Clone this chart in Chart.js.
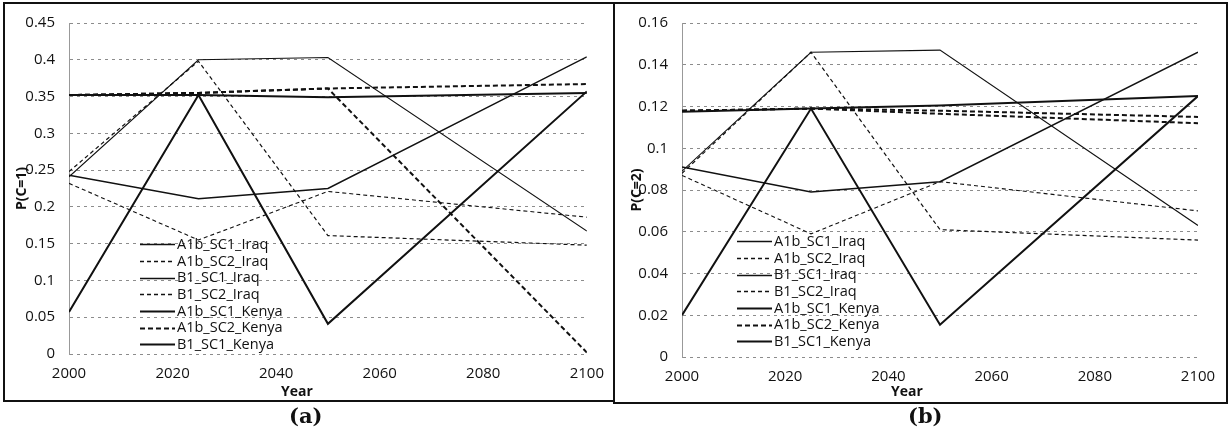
<!DOCTYPE html>
<html>
<head>
<meta charset="utf-8">
<script src="https://cdn.jsdelivr.net/npm/chart.js@4.4.1/dist/chart.umd.min.js"></script>
<style>
  body { margin: 0; background: #fff; width: 1229px; height: 439px; position: relative; overflow: hidden; font-family: "Open Sans", sans-serif; }
  canvas { position: absolute; top: 0; }
  .frame { position: absolute; border: 2px solid #111; pointer-events: none; box-sizing: border-box; }
  .legend { position: absolute; font-size: 14.5px; line-height: 16.7px; color: #111; }
  .legend div { display: flex; align-items: center; height: 16.7px; }
  .legend svg { margin-right: 2px; }
  .xtitle { position: absolute; font-size: 14px; font-weight: bold; color: #111; }
  .cap { position: absolute; font-family: "DejaVu Serif", serif; font-weight: bold; font-size: 21px; color: #111; }
</style>
</head>
<body>
<canvas id="chartA" width="615" height="401" style="left:0"></canvas>
<canvas id="chartB" width="614" height="403" style="left:615px"></canvas>
<div class="frame" style="left:3px; top:2px; width:612px; height:400px;"></div>
<div class="frame" style="left:613px; top:2px; width:615px; height:402px;"></div>
<div class="legend" id="legendA" style="left:140px; top:236px;"></div>
<div class="legend" id="legendB" style="left:737px; top:233px;"></div>
<div class="xtitle" style="left:281px; top:381px;">Year</div>
<div class="xtitle" style="left:891px; top:381px;">Year</div>
<div class="cap" style="left:289px; top:403px;">(a)</div>
<div class="cap" style="left:908px; top:403px;">(b)</div>
<script>
const years = [2000, 2025, 2050, 2100];
const seriesNames = ["A1b_SC1_Iraq", "A1b_SC2_Iraq", "B1_SC1_Iraq", "B1_SC2_Iraq",
                     "A1b_SC1_Kenya", "A1b_SC2_Kenya", "B1_SC1_Kenya", "B1_SC2_Kenya"];
// the printed legend stops at 7 entries
const legendCount = 7;

// (a) P(C=1)
const a_A1b_SC1_Iraq  = [0.241, 0.400, 0.403, 0.167];
const a_A1b_SC2_Iraq  = [0.248, 0.398, 0.161, 0.148];
const a_B1_SC1_Iraq   = [0.243, 0.211, 0.225, 0.404];
const a_B1_SC2_Iraq   = [0.232, 0.155, 0.221, 0.186];
const a_A1b_SC1_Kenya = [0.057, 0.352, 0.041, 0.357];
const a_A1b_SC2_Kenya = [0.352, 0.355, 0.361, 0.367];
const a_B1_SC1_Kenya  = [0.352, 0.352, 0.349, 0.355];
const a_B1_SC2_Kenya  = [0.352, 0.355, 0.361, 0.002];

// (b) P(C=2)
const b_A1b_SC1_Iraq  = [0.089, 0.146, 0.147, 0.063];
const b_A1b_SC2_Iraq  = [0.088, 0.146, 0.061, 0.056];
const b_B1_SC1_Iraq   = [0.091, 0.079, 0.084, 0.146];
const b_B1_SC2_Iraq   = [0.087, 0.059, 0.084, 0.070];
const b_A1b_SC1_Kenya = [0.020, 0.119, 0.0155, 0.125];
const b_A1b_SC2_Kenya = [0.118, 0.119, 0.118, 0.115];
const b_B1_SC1_Kenya  = [0.1175, 0.119, 0.1205, 0.125];
const b_B1_SC2_Kenya  = [0.118, 0.119, 0.1165, 0.112];

const xTicks = [2000, 2020, 2040, 2060, 2080, 2100];

// line looks, same order as seriesNames
const styles = [
    { w: 1.1, dash: [] },
    { w: 1.2, dash: [4, 3] },
    { w: 1.5, dash: [] },
    { w: 1.1, dash: [4, 3] },
    { w: 2, dash: [] },
    { w: 2, dash: [5, 3] },
    { w: 2, dash: [] },
    { w: 2, dash: [5, 3] }
];

function makeDatasets(list) {
    return list.map((vals, i) => ({
        label: seriesNames[i],
        data: vals.map((v, k) => ({ x: years[k], y: v })),
        borderColor: "#111",
        borderWidth: styles[i].w,
        borderDash: styles[i].dash,
        pointRadius: 0,
        tension: 0,
        fill: false
    }));
}

function makeLegend(id) {
    let box = document.getElementById(id);
    box.innerHTML = "";
    for (let i = 0; i < legendCount; i++) {
        let s = styles[i];
        box.innerHTML += `
            <div><svg width="35" height="6"><line x1="0" y1="3.5" x2="35" y2="3.5" stroke="#111"
              stroke-width="${Math.max(s.w, 1.4)}" stroke-dasharray="${s.dash.join(' ')}"/></svg>${seriesNames[i]}</div>`;
    }
}

const tickFont = { family: "Open Sans", size: 15 };
const titleFont = { family: "Open Sans", size: 14, weight: "bold" };

function makeChart(id, datasets, yMax, yStep, yTitle, yWidth, xHeight, padRight, xPad) {
    return new Chart(document.getElementById(id), {
        type: "line",
        data: { datasets: datasets },
        options: {
            responsive: false,
            animation: false,
            layout: { padding: { top: 15, right: padRight, left: 0, bottom: 0 } },
            plugins: { legend: { display: false }, tooltip: { enabled: false } },
            scales: {
                x: {
                    type: "linear",
                    min: 2000, max: 2100,
                    afterBuildTicks: s => { s.ticks = xTicks.map(v => ({ value: v })); },
                    afterFit: s => { s.height = xHeight; },
                    grid: { display: false, drawTicks: false },
                    border: { display: false },
                    ticks: { color: "#111", font: tickFont, padding: xPad, maxRotation: 0, callback: v => String(v) }
                },
                y: {
                    min: 0, max: yMax,
                    ticks: {
                        stepSize: yStep, color: "#111", font: tickFont, padding: 14,
                        callback: v => String(parseFloat(v.toFixed(4)))
                    },
                    afterFit: s => { s.width = yWidth; },
                    grid: { color: "#8c8c8c", lineWidth: 1, drawTicks: false, borderDash: [3, 4] },
                    border: { display: true, color: "#999", dash: [3, 4] },
                    title: { display: true, text: yTitle, color: "#111", font: titleFont, padding: { top: 14, bottom: 0 } }
                }
            }
        }
    });
}

Chart.defaults.font.family = "Open Sans";

makeChart("chartA",
    makeDatasets([a_A1b_SC1_Iraq, a_A1b_SC2_Iraq, a_B1_SC1_Iraq, a_B1_SC2_Iraq,
                  a_A1b_SC1_Kenya, a_A1b_SC2_Kenya, a_B1_SC1_Kenya, a_B1_SC2_Kenya]),
    0.45, 0.05, "P(C=1)", 69, 47, 25, 11);

makeChart("chartB",
    makeDatasets([b_A1b_SC1_Iraq, b_A1b_SC2_Iraq, b_B1_SC1_Iraq, b_B1_SC2_Iraq,
                  b_A1b_SC1_Kenya, b_A1b_SC2_Kenya, b_B1_SC1_Kenya, b_B1_SC2_Kenya]),
    0.16, 0.02, "P(C=2)", 67, 46, 31, 11);

makeLegend("legendA");
makeLegend("legendB");
</script>
</body>
</html>
